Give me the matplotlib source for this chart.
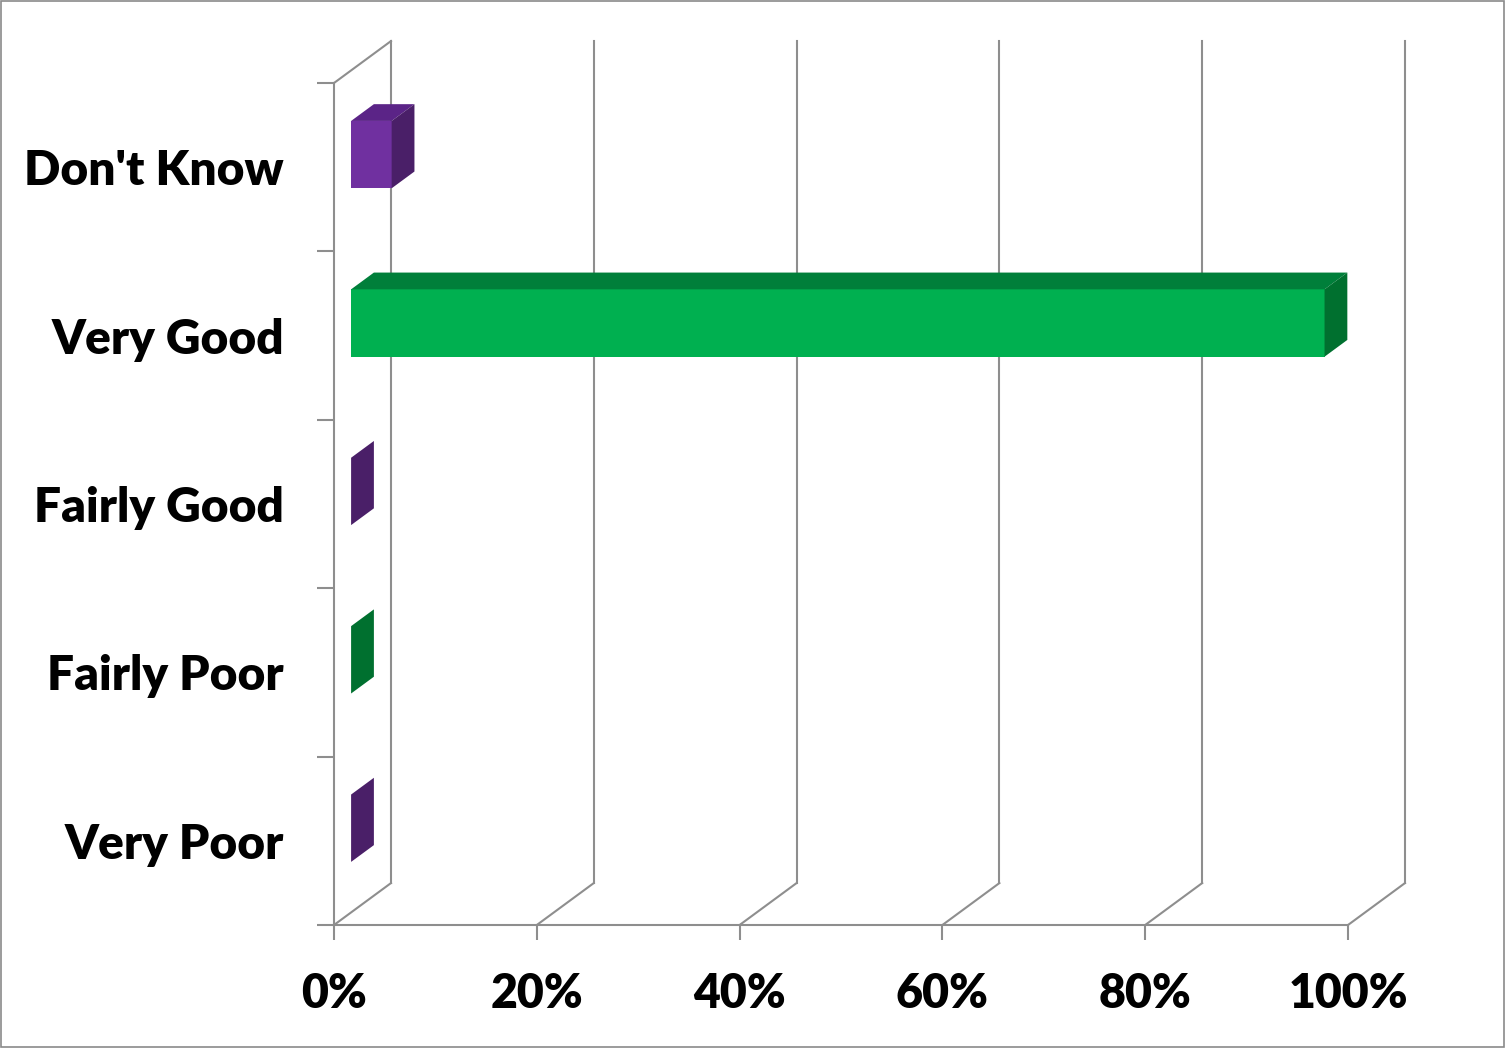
import numpy as np
import matplotlib
matplotlib.use('Agg')
import matplotlib.pyplot as plt
from matplotlib.patches import Polygon

# data (bottom to top)
categories = ['Very Poor', 'Fairly Poor', 'Fairly Good', 'Very Good', "Don't Know"]
values = [0, 0, 0, 96, 4]
front_colors = ['#7030A0', '#00B050', '#7030A0', '#00B050', '#7030A0']
top_colors = ['#5B2487', '#007F3A', '#5B2487', '#007F3A', '#5B2487']
side_colors = ['#4A1F68', '#00702F', '#4A1F68', '#00702F', '#4A1F68']
x_ticks = [0, 20, 40, 60, 80, 100]
x_labels = ['0%', '20%', '40%', '60%', '80%', '100%']

grid_col = '#8E8E8E'
DX = 5.62      # depth offset in percent units
DY = 0.249     # depth offset in category units
half = 0.2
d0, d1 = 0.3, 0.7

plt.rcParams['font.family'] = ['Lato', 'DejaVu Sans']

fig = plt.figure(figsize=(15.05, 10.48), dpi=100)
ax = fig.add_axes([334 / 1505, 1 - 925 / 1048, 1014 / 1505, 842 / 1048])
ax.set_xlim(0, 100)
ax.set_ylim(-0.5, len(categories) - 0.5)

for s in ['top', 'right']:
    ax.spines[s].set_visible(False)
for s in ['left', 'bottom']:
    ax.spines[s].set_color(grid_col)
    ax.spines[s].set_linewidth(1.5)

lw = 1.5
ytop = len(categories) - 0.5
ybot = -0.5
# back wall verticals and floor diagonals
for t in x_ticks:
    ax.plot([t + DX, t + DX], [ybot + DY, ytop + DY], color=grid_col, lw=lw, clip_on=False, zorder=1)
    ax.plot([t, t + DX], [ybot, ybot + DY], color=grid_col, lw=lw, clip_on=False, zorder=1)
# left wall top
ax.plot([0, DX], [ytop, ytop + DY], color=grid_col, lw=lw, clip_on=False, zorder=1)

# bars
for i, v in enumerate(values):
    x0 = d0 * DX
    y0 = i - half + d0 * DY
    y1 = i + half + d0 * DY
    front = Polygon([(x0, y0), (v + x0, y0), (v + x0, y1), (x0, y1)], closed=True,
                    facecolor=front_colors[i], edgecolor='none', zorder=3, clip_on=False)
    top = Polygon([(x0, y1), (v + x0, y1), (v + d1 * DX, i + half + d1 * DY), (d1 * DX, i + half + d1 * DY)],
                  closed=True, facecolor=top_colors[i], edgecolor='none', zorder=3, clip_on=False)
    side = Polygon([(v + x0, y0), (v + d1 * DX, i - half + d1 * DY), (v + d1 * DX, i + half + d1 * DY), (v + x0, y1)],
                   closed=True, facecolor=side_colors[i], edgecolor='none', zorder=3, clip_on=False)
    if v > 0:
        ax.add_patch(front)
        ax.add_patch(top)
    ax.add_patch(side)

# ticks and labels
ax.set_xticks(x_ticks, x_labels)
ax.set_yticks(range(len(categories)), categories)
ax.set_yticks(np.arange(-0.5, len(categories), 1.0), minor=True)
ax.tick_params(axis='y', which='major', length=0, pad=36, labelsize=34.5)
ax.tick_params(axis='y', which='minor', length=12, width=1.5, color=grid_col, direction='out')
ax.tick_params(axis='x', which='major', length=11, width=1.5, color=grid_col, direction='out', pad=23, labelsize=33.5)
for lab in ax.get_xticklabels() + ax.get_yticklabels():
    lab.set_fontweight('heavy')

ax.set_facecolor('none')
fig.patches.append(plt.Rectangle((0.0005, 0.0007), 0.999, 0.9986, transform=fig.transFigure,
                                 fill=False, edgecolor='#8A8A8A', lw=1.2))

fig.savefig('out.png', dpi=100)
